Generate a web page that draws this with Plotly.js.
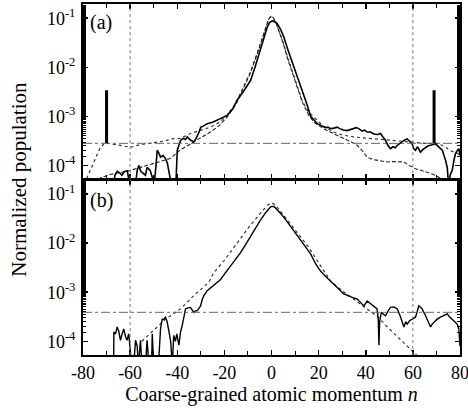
<!DOCTYPE html>
<html>
<head>
<meta charset="utf-8">
<script src="https://cdn.plot.ly/plotly-3.0.1.min.js"></script>
<style>html,body{margin:0;padding:0;background:#fff;}#chart{width:468px;height:409px;}</style>
</head>
<body>
<div id="chart"></div>
<script>
// ---------- DATA (populations given as log10 values) ----------
// Panel (a): experiment (solid)
const aSolidX = [-67,-66.5,-65.5,-64.5,-63.5,-62.5,-61.2,-60.5,-59.8,-58,-57,-56.3,-55.5,-54.9,-53.5,-52.8,-51.5,-50.6,-50,-49,-48.5,-47.8,-47.1,-46,-45,-44.2,-43.6,-42.5,-41.5,-40.5,-40,-39.2,-38.6,-37.5,-36.5,-35.8,-34.5,-33,-32,-31,-30,-29,-27.3,-25,-23,-21,-18.8,-16.5,-14.6,-12,-8.9,-7,-4.7,-3,-1.8,-0.8,0.3,1.3,2.4,3.8,5.2,7,8.5,9.5,11,12.5,13.7,15,16.6,18,19.5,20.8,22,23,24,25,26.5,27.9,29,30.5,32.1,33.5,35,36,37,38.5,39.5,40.6,42,43.5,45,46.3,47.3,48.4,49.5,50.5,51.5,52.5,53.4,54.5,55.5,56.5,57.6,58.5,59.7,60.4,61.1,62,63.2,64.2,65.4,66.5,67.5,68.5,69.6,70.5,71.5,72.5,73.2,73.9,74.6,75.3,75.8,76.7,77.4,78.1,78.8,79.5,80];
const aSolidLog = [-4.5,-4.2,-4.12,-4.15,-4.2,-4.13,-4.11,-4.3,-4.5,-4.5,-4.1,-4.0,-4.12,-4.14,-4.2,-4.04,-4.1,-4.24,-4.5,-4.0,-3.69,-3.75,-3.83,-3.8,-3.86,-3.95,-4.14,-4.4,-4.5,-4.3,-3.69,-3.55,-3.49,-3.45,-3.47,-3.42,-3.48,-3.52,-3.45,-3.35,-3.22,-3.2,-3.15,-3.12,-3.08,-3.04,-2.98,-2.85,-2.67,-2.5,-2.27,-2.0,-1.65,-1.38,-1.18,-1.09,-1.055,-1.07,-1.11,-1.22,-1.38,-1.65,-1.85,-1.99,-2.2,-2.4,-2.54,-2.75,-3.0,-3.08,-3.15,-3.18,-3.2,-3.23,-3.22,-3.25,-3.24,-3.22,-3.25,-3.28,-3.29,-3.27,-3.26,-3.23,-3.25,-3.3,-3.28,-3.32,-3.32,-3.36,-3.37,-3.35,-3.42,-3.49,-3.6,-3.66,-3.62,-3.64,-3.59,-3.55,-3.52,-3.48,-3.46,-3.5,-3.56,-3.66,-3.69,-3.62,-3.73,-3.68,-3.63,-3.6,-3.59,-3.57,-3.56,-3.6,-3.65,-3.69,-3.8,-3.9,-4.05,-4.5,-4.2,-4.1,-3.9,-3.76,-3.7,-3.66,-3.8];
// Panel (a): model 1 (dashed)
const aDashX = [-73,-72.6,-68,-61.2,-55,-48.5,-43,-38.6,-34.4,-31,-25.9,-22,-18.8,-15,-12,-9,-6,-4,-2.5,-1.2,-0.3,0.6,1.8,3.2,5,7,9,11,13,15.5,18,22,26,29.3,33,36.4,38.5,40.6,43,46.3,49.1,52,56.2,58.5,61.1,63.5,66.1,68.5,71,72];
const aDashLog = [-4.3,-4.25,-4.18,-4.12,-4.03,-3.93,-3.86,-3.68,-3.56,-3.48,-3.32,-3.18,-3.01,-2.75,-2.45,-2.12,-1.72,-1.42,-1.18,-1.02,-0.96,-0.98,-1.07,-1.25,-1.52,-1.85,-2.15,-2.45,-2.7,-2.95,-3.12,-3.25,-3.35,-3.42,-3.5,-3.59,-3.7,-3.83,-3.88,-3.9,-3.93,-3.92,-3.93,-4.0,-4.07,-4.1,-4.14,-4.18,-4.24,-4.28];
// Panel (a): model 2 (dotted)
const aDotX = [-80,-78.2,-76,-74,-72.6,-71,-69.7,-67,-64,-61,-59.8,-56,-52,-50,-45,-42.9,-38.6,-34.4,-31,-25.9,-22,-18.8,-15,-12,-9,-6,-4,-2.5,-1.2,-0.3,0.6,1.8,3.2,5,7,9,11,13,15.5,18,22,26.4,30,34.9,40,44.8,50,55,60,65,70,73,76,80];
const aDotLog = [-4.5,-4.24,-4.0,-3.8,-3.63,-3.56,-3.545,-3.57,-3.6,-3.63,-3.63,-3.58,-3.55,-3.545,-3.5,-3.46,-3.45,-3.35,-3.3,-3.22,-3.12,-2.98,-2.72,-2.42,-2.1,-1.7,-1.4,-1.17,-1.02,-0.97,-0.99,-1.08,-1.27,-1.5,-1.82,-2.12,-2.42,-2.68,-2.9,-3.01,-3.2,-3.32,-3.38,-3.42,-3.44,-3.46,-3.48,-3.5,-3.52,-3.55,-3.55,-3.6,-3.7,-3.78];
// Panel (a): markers (thick bars)
const aBarX = [-70, 69];
const aBarLow = -3.55, aBarHigh = -2.47;
// Panel (b): experiment (solid)
const bSolidX = [-67,-66.9,-66.2,-65.5,-64.8,-64.1,-63.4,-62.7,-62,-61.3,-60.6,-59.8,-59.3,-58.5,-57.7,-57,-56.5,-55.6,-55,-53.5,-52.8,-52,-50.9,-50.6,-50,-48,-47.1,-46.4,-45.7,-45,-44.3,-43.6,-42.8,-42.1,-41.5,-40.8,-40.2,-39.3,-38.6,-37.9,-37.2,-36.5,-35.5,-34.4,-33.7,-33,-32.3,-31.6,-30.8,-30.1,-29.4,-28.7,-27.3,-26,-24.5,-23,-21.6,-19.5,-17.4,-15.3,-13.2,-11,-8.9,-6.8,-4.7,-2.5,-1.2,-0.4,1,2.4,3.8,6,8.1,10,12.3,14.5,16.6,18.7,20.8,23,25,27,29.3,30.5,32.1,34,36.4,37.8,39.2,40.6,42,43.4,44.8,45.3,45.6,45.9,46.6,47.5,48.4,49.5,50.5,52,53.4,54.8,55.5,56.2,57,57.6,58.6,59.7,61.1,61.8,62.5,63.2,63.9,65.4,66.5,67.5,68.2,68.9,70.3,71.7,73,74.6,75.5,76.5,77.4,78.8,79.5,79.9,80];
const bSolidLog = [-4.5,-3.81,-3.85,-3.71,-3.8,-3.98,-3.85,-3.75,-3.9,-3.98,-3.85,-4.2,-4.5,-4.5,-3.98,-4.1,-4.5,-3.98,-4.5,-4.5,-3.98,-4.5,-4.5,-3.85,-4.5,-4.5,-3.75,-3.55,-3.55,-3.51,-3.6,-3.78,-4.0,-4.5,-3.88,-4.0,-3.85,-4.08,-3.81,-3.68,-3.5,-3.34,-3.32,-3.31,-3.36,-3.41,-3.38,-3.38,-3.33,-3.28,-3.15,-3.07,-2.97,-2.92,-2.87,-2.8,-2.74,-2.6,-2.47,-2.33,-2.2,-2.03,-1.86,-1.7,-1.53,-1.38,-1.3,-1.26,-1.25,-1.31,-1.39,-1.52,-1.66,-1.8,-1.95,-2.1,-2.22,-2.42,-2.57,-2.68,-2.77,-2.85,-2.97,-3.03,-3.07,-3.1,-3.14,-3.2,-3.28,-3.18,-3.24,-3.3,-3.34,-3.55,-4.08,-3.6,-3.41,-3.45,-3.48,-3.38,-3.31,-3.3,-3.34,-3.51,-3.62,-3.71,-3.6,-3.65,-3.58,-3.55,-3.51,-3.4,-3.28,-3.3,-3.34,-3.48,-3.6,-3.71,-3.65,-3.61,-3.55,-3.51,-3.48,-3.44,-3.5,-3.55,-3.58,-3.65,-3.75,-3.95,-4.1];
// Panel (b): model (dotted)
const bDotX = [-55,-50.6,-45,-38.6,-33,-26.6,-24.5,-20,-14.6,-10,-4.7,-2,-0.4,1,3,5,8,12,16,20,25,30,35,40.6,45,50,55,60.4,62];
const bDotLog = [-4.0,-3.81,-3.55,-3.34,-3.07,-2.8,-2.6,-2.35,-2.0,-1.7,-1.39,-1.24,-1.18,-1.2,-1.3,-1.42,-1.6,-1.85,-2.1,-2.4,-2.77,-2.97,-3.15,-3.34,-3.5,-3.75,-3.98,-4.22,-4.3];
// Reference lines
const vLinesX = [-60, 60];
const hLineA = -3.55, hLineB = -3.41;
// Tick labels
const xTickVals = [-80,-60,-40,-20,0,20,40,60,80];
const xTickText = ['-80','-60','-40','-20','0','20','40','60','80'];
const yTickVals = [0.1, 0.01, 0.001, 0.0001];
const yTickText = ['10<sup>-1</sup>','10<sup>-2</sup>','10<sup>-3</sup>','10<sup>-4</sup>'];

// ---------- BUILD ----------
const pw = v => v.map(e => Math.pow(10, e));
const serif = '"Liberation Serif", Tinos, "Times New Roman", "DejaVu Serif", serif';

const traces = [];
// top panel: x2 / y
traces.push({x:aDotX, y:pw(aDotLog), xaxis:'x2', yaxis:'y', mode:'lines', line:{color:'#333', width:1.2, dash:'dot'}});
traces.push({x:aDashX, y:pw(aDashLog), xaxis:'x2', yaxis:'y', mode:'lines', line:{color:'#222', width:1.1, dash:'4px,2px'}});
traces.push({x:aSolidX, y:pw(aSolidLog), xaxis:'x2', yaxis:'y', mode:'lines', line:{color:'#000', width:1.6}});
aBarX.forEach(bx => traces.push({x:[bx,bx], y:pw([aBarLow,aBarHigh]), xaxis:'x2', yaxis:'y', mode:'lines', line:{color:'#000', width:3}}));
// bottom panel: x / y2
traces.push({x:bDotX, y:pw(bDotLog), xaxis:'x', yaxis:'y2', mode:'lines', line:{color:'#333', width:1.2, dash:'dot'}});
traces.push({x:bSolidX, y:pw(bSolidLog), xaxis:'x', yaxis:'y2', mode:'lines', line:{color:'#000', width:1.4}});

const shapes = [];
vLinesX.forEach(vx => {
  shapes.push({type:'line', xref:'x2', yref:'y domain', x0:vx, x1:vx, y0:0, y1:1, line:{color:'#777', width:1, dash:'dot'}});
  shapes.push({type:'line', xref:'x', yref:'y2 domain', x0:vx, x1:vx, y0:0, y1:1, line:{color:'#777', width:1, dash:'dot'}});
});
shapes.push({type:'line', xref:'x2 domain', yref:'y', x0:0, x1:1, y0:Math.pow(10,hLineA), y1:Math.pow(10,hLineA), line:{color:'#666', width:1, dash:'dashdot'}});
shapes.push({type:'line', xref:'x domain', yref:'y2', x0:0, x1:1, y0:Math.pow(10,hLineB), y1:Math.pow(10,hLineB), line:{color:'#666', width:1, dash:'dashdot'}});

const axCommon = {
  showline:true, linecolor:'#000', linewidth:2, mirror:'ticks', ticks:'inside', ticklen:5, tickwidth:1.5, tickcolor:'#000',
  showgrid:false, zeroline:false, tickfont:{family:serif, size:18, color:'#000'}, ticklabeloverflow:'allow'
};
const xCommon = Object.assign({}, axCommon, {range:[-80,80], tickvals:xTickVals, ticktext:xTickText, minor:{dtick:10, ticks:'inside', ticklen:4, tickwidth:1, tickcolor:'#000'}});
const yCommon = Object.assign({}, axCommon, {type:'log', range:[-4.28,-0.71], tickvals:yTickVals, ticktext:yTickText,
  minor:{ticks:'inside', ticklen:3, tickwidth:1, tickcolor:'#000', showgrid:false}, ticklabelstandoff:2});

const layout = {
  width:468, height:409,
  margin:{l:83, r:8, t:4, b:54},
  paper_bgcolor:'#fff', plot_bgcolor:'#fff',
  showlegend:false,
  font:{family:serif, size:17, color:'#000'},
  xaxis: Object.assign({}, xCommon, {anchor:'y2', domain:[0,1], title:{text:'Coarse-grained atomic momentum <i>n</i>', font:{size:20, family:serif, color:'#000'}, standoff:2}}),
  xaxis2: Object.assign({}, xCommon, {anchor:'y', matches:'x', showticklabels:false}),
  yaxis: Object.assign({}, yCommon, {domain:[0.501,1], anchor:'x2'}),
  yaxis2: Object.assign({}, yCommon, {domain:[0,0.499], anchor:'x'}),
  shapes: shapes,
  annotations:[
    {text:'Normalized population', xref:'paper', yref:'paper', x:-0.172, y:0.5, textangle:-90, showarrow:false, font:{size:21, family:serif, color:'#000'}, xanchor:'center', yanchor:'middle'},
    {text:'(a)', xref:'paper', yref:'paper', x:0.012, y:0.947, showarrow:false, xanchor:'left', yanchor:'middle', font:{size:20, family:serif, color:'#000'}},
    {text:'(b)', xref:'paper', yref:'paper', x:0.012, y:0.44, showarrow:false, xanchor:'left', yanchor:'middle', font:{size:20, family:serif, color:'#000'}}
  ]
};

Plotly.newPlot('chart', traces, layout, {displayModeBar:false, staticPlot:true});
</script>
</body>
</html>
